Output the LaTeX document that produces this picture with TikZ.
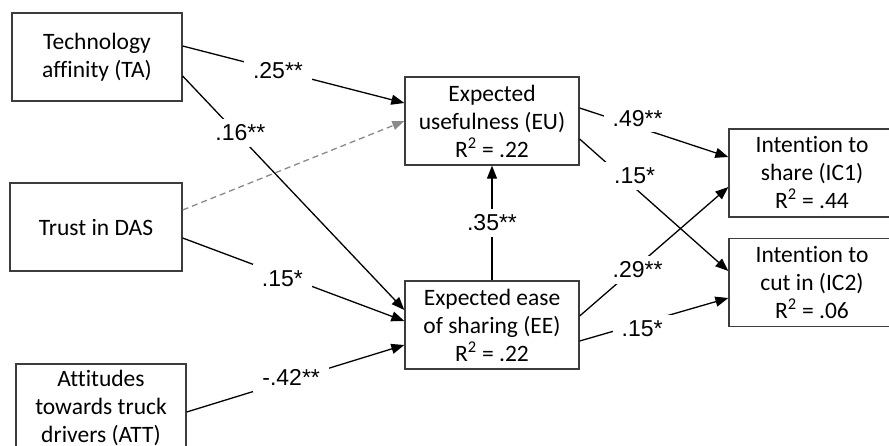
\documentclass[tikz,border=0pt]{standalone}
\usepackage{fontspec}
\setmainfont{Carlito}[Ligatures=CommonOff]
\newfontfamily\lblfont{Liberation Sans}
\usetikzlibrary{arrows.meta,calc}
\definecolor{boxline}{HTML}{3C3C3C}
\definecolor{dashgray}{HTML}{8A8A8A}
\newcommand{\rsq}{R\textsuperscript{2}}
\begin{document}
\begin{tikzpicture}[x=1pt,y=-1pt,
  varbox/.style={draw=boxline, line width=1.3pt, inner sep=0pt, align=center,
    minimum height=88pt, font=\fontsize{23.5}{28}\selectfont},
  path/.style={draw=black, line width=1.3pt, -{Triangle[length=13pt,width=10pt]}},
  dpath/.style={draw=dashgray, line width=1.3pt, dash pattern=on 6pt off 4pt,
    -{Triangle[length=12pt,width=9pt]}},
  lbl/.style={fill=white, inner xsep=9pt, inner ysep=6pt, text=black,
    font=\lblfont\fontsize{23}{26}\selectfont}
]
\useasboundingbox (0,0) rectangle (889,445);
\clip (0,0) rectangle (889,445);
\fill[white] (0,0) rectangle (889,445);

% boxes
\node[varbox, minimum width=170pt] (TA) at (97,57) {Technology\\affinity (TA)};
\node[varbox, minimum width=172pt] (TR) at (96,227) {Trust in DAS};
\node[varbox, minimum width=170pt] (ATT) at (101,408) {Attitudes\\towards truck\\drivers (ATT)};
\node[varbox, minimum width=174pt] (EU) at (492,121) {Expected\\usefulness (EU)\\\rsq{} = .22};
\node[varbox, minimum width=174pt] (EE) at (492,325) {Expected ease\\of sharing (EE)\\\rsq{} = .22};
\node[varbox, minimum width=166pt] (IC1) at (812,173) {Intention to\\share (IC1)\\\rsq{} = .44};
\node[varbox, minimum width=166pt] (IC2) at (812,282.5) {Intention to\\cut in (IC2)\\\rsq{} = .06};

% paths
\draw[dpath] ([yshift=17pt]TR.east) -- (EU.west);
\draw[path] ([yshift=11pt]TA.east) -- node[lbl, pos=0.43] {.25**} ([yshift=18pt]EU.west);
\draw[path] ([yshift=-19pt]TA.east) -- node[lbl, pos=0.26, yshift=4pt] {.16**} ([yshift=15pt]EE.west);
\draw[path] ([yshift=-11pt]TR.east) -- node[lbl, pos=0.45, yshift=-3pt] {.15*} ([yshift=4pt]EE.west);
\draw[path] ([yshift=-4pt]ATT.east) -- node[lbl, pos=0.48, yshift=2pt] {-.42**} ([yshift=-20pt]EE.west);
\draw[path] (EE.north) -- node[lbl, pos=0.5] {.35**} (EU.south);
\draw[path] ([yshift=-18pt]EU.east) -- node[lbl, pos=0.37, yshift=12pt] {.15*} ([yshift=11.5pt]IC2.west);
\draw[path] ([yshift=13pt]EU.east) -- node[lbl, pos=0.39, yshift=9pt] {.49**} ([yshift=16pt]IC1.west);
\draw[path] ([yshift=9pt]EE.east) -- node[lbl, pos=0.39, yshift=-4pt] {.29**} ([yshift=-14pt]IC1.west);
\draw[path] ([yshift=-16pt]EE.east) -- node[lbl, pos=0.42, yshift=-6pt] {.15*} ([yshift=-15.5pt]IC2.west);
\end{tikzpicture}
\end{document}
